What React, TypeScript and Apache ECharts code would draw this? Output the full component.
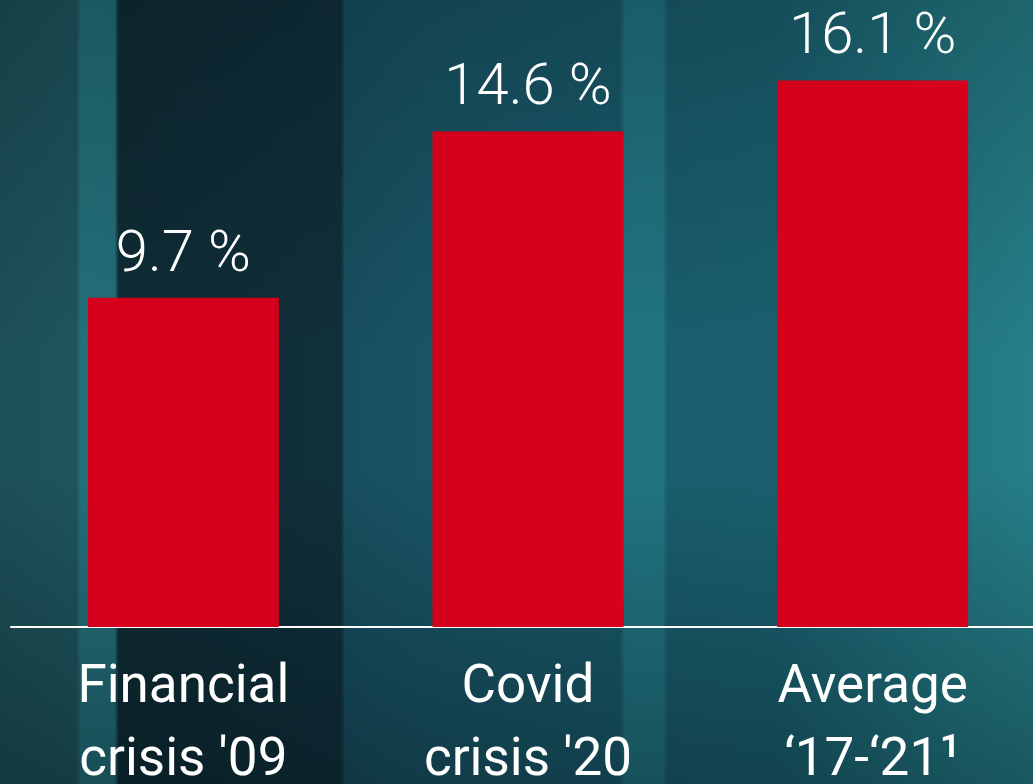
import React, { useEffect, useRef } from "react";
import * as echarts from "echarts";

const categories = ["Financial\ncrisis '09", "Covid\ncrisis '20", "Average\n‘17-‘21¹"];
const values = [9.7, 14.6, 16.1];

const bgStops = [
  { offset: 0, color: "#1d5058" },
  { offset: 0.074, color: "#1f555d" },
  { offset: 0.078, color: "#23717a" },
  { offset: 0.111, color: "#23707a" },
  { offset: 0.115, color: "#0f2b34" },
  { offset: 0.33, color: "#10303b" },
  { offset: 0.334, color: "#184f5f" },
  { offset: 0.41, color: "#195464" },
  { offset: 0.6, color: "#195a6a" },
  { offset: 0.605, color: "#217582" },
  { offset: 0.642, color: "#217582" },
  { offset: 0.646, color: "#1a5e6d" },
  { offset: 0.75, color: "#1a606f" },
  { offset: 0.93, color: "#237882" },
  { offset: 1, color: "#267f88" },
];

export default function App() {
  const ref = useRef<HTMLDivElement>(null);
  useEffect(() => {
    document.body.style.margin = "0";
    document.documentElement.style.overflow = "hidden";
    document.body.style.overflow = "hidden";
    const chart = echarts.init(ref.current!, undefined, { renderer: "svg" });
    chart.setOption({
      animation: false,
      backgroundColor: {
        type: "linear",
        x: 0,
        y: 0,
        x2: 1,
        y2: 0,
        colorStops: bgStops,
      },
      graphic: [
        {
          type: "rect",
          left: 0,
          top: 0,
          z: -1,
          silent: true,
          shape: { width: 1033, height: 784 },
          style: {
            fill: {
              type: "linear",
              x: 0,
              y: 0,
              x2: 0,
              y2: 1,
              colorStops: [
                { offset: 0, color: "rgba(0,8,12,0.22)" },
                { offset: 0.45, color: "rgba(0,8,12,0)" },
                { offset: 0.6, color: "rgba(0,8,12,0)" },
                { offset: 1, color: "rgba(0,8,12,0.33)" },
              ],
            },
          },
        },
      ],
      grid: {
        left: 11,
        width: 1034,
        top: 16,
        bottom: 157,
        containLabel: false,
        outerBoundsMode: "none",
      },
      xAxis: {
        type: "category",
        data: categories,
        axisTick: { show: false },
        axisLine: { lineStyle: { color: "#ffffff", width: 2 } },
        axisLabel: {
          color: "#ffffff",
          fontFamily: "Roboto",
          fontWeight: 400,
          fontSize: 53,
          lineHeight: 73,
          margin: 20,
          interval: 0,
          formatter: (v: string) => v.replace("¹", "{sup|¹}"),
          rich: {
            sup: {
              color: "#ffffff",
              fontFamily: "Roboto",
              fontWeight: 400,
              fontSize: 60,
              lineHeight: 73,
            },
          },
        },
      },
      yAxis: {
        type: "value",
        min: 0,
        max: 18,
        show: false,
        splitLine: { show: false },
      },
      series: [
        {
          type: "bar",
          data: values,
          barWidth: 191,
          itemStyle: { color: "#d4001c" },
          label: {
            show: true,
            position: "top",
            distance: 18,
            color: "#ffffff",
            fontFamily: "Roboto",
            fontWeight: 300,
            fontSize: 58,
            formatter: (p: any) => `${p.value} %`,
          },
        },
      ],
    });
    return () => chart.dispose();
  }, []);
  return (
    <div
      ref={ref}
      style={{ position: "absolute", left: 0, top: 0, width: 1033, height: 784, overflow: "hidden" }}
    />
  );
}
